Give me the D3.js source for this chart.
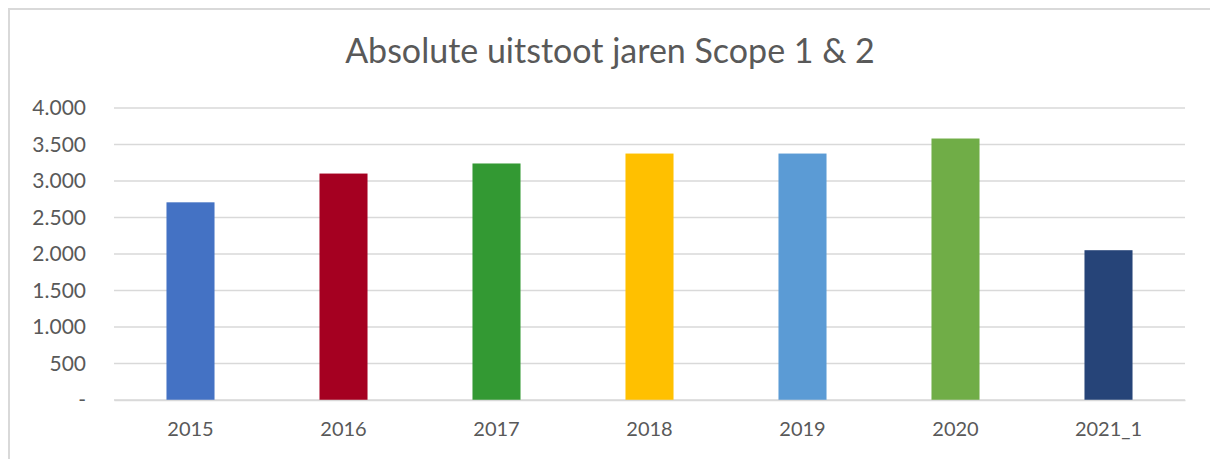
<!DOCTYPE html>
<html>
<head>
<meta charset="utf-8">
<script src="https://cdn.jsdelivr.net/npm/d3@7"></script>
<style>
  body { margin: 0; background: #fff; }
  svg text { font-family: Lato, "Open Sans", sans-serif; fill: #595959; }
</style>
</head>
<body>
<div id="chart"></div>
<script>
// data
const categories = ["2015", "2016", "2017", "2018", "2019", "2020", "2021_1"];
const values = [2708, 3102, 3240, 3376, 3376, 3582, 2052];
const barColors = ["#4472C4", "#A50021", "#339933", "#FFC000", "#5B9BD5", "#70AD47", "#264478"];
const yTicks = [0, 500, 1000, 1500, 2000, 2500, 3000, 3500, 4000];
const titleText = "Absolute uitstoot jaren Scope 1 & 2";

const W = 1210, H = 459;
const margin = {top: 108, right: 25, bottom: 59, left: 114};

const svg = d3.select("#chart").append("svg")
    .attr("width", W)
    .attr("height", H);

// chart frame (only top and left edges are visible)
svg.append("path")
    .attr("d", `M9,${H} L9,9 L${W},9`)
    .attr("fill", "none")
    .attr("stroke", "#d9d9d9")
    .attr("stroke-width", 2);

// title
svg.append("text")
    .attr("x", 610)
    .attr("y", 63)
    .attr("text-anchor", "middle")
    .style("font-size", "34px")
    .text(titleText);

const x = d3.scaleBand()
    .domain(categories)
    .range([margin.left, W - margin.right])
    .paddingInner(0.686)
    .paddingOuter(0.343);

const y = d3.scaleLinear()
    .domain([0, 4000])
    .range([H - margin.bottom, margin.top]);

const fmt = v => v === 0 ? "-" : d3.format(",")(v).replace(/,/g, ".");

// gridlines
svg.append("g")
    .selectAll("line")
    .data(yTicks)
    .join("line")
    .attr("x1", margin.left)
    .attr("x2", W - margin.right)
    .attr("y1", d => y(d))
    .attr("y2", d => y(d))
    .attr("stroke", "#d9d9d9")
    .attr("stroke-width", 1.5);

// bars
svg.append("g")
    .selectAll("rect")
    .data(categories)
    .join("rect")
    .attr("x", d => x(d))
    .attr("width", x.bandwidth())
    .attr("y", (d, i) => y(values[i]))
    .attr("height", (d, i) => y(0) - y(values[i]))
    .attr("fill", (d, i) => barColors[i]);

// y axis
const yAxis = svg.append("g")
    .attr("transform", `translate(${margin.left - 28},0)`)
    .call(d3.axisLeft(y).tickValues(yTicks).tickFormat(fmt).tickSize(0).tickPadding(0));
yAxis.select(".domain").remove();
yAxis.selectAll("text")
    .style("font-size", "21px")
    .attr("font-family", null);

// x axis
const xAxis = svg.append("g")
    .attr("transform", `translate(0,${y(0)})`)
    .call(d3.axisBottom(x).tickSize(0).tickPadding(22));
xAxis.select(".domain")
    .attr("stroke", "#d9d9d9")
    .attr("stroke-width", 1.5);
xAxis.selectAll("text")
    .style("font-size", "20px")
    .attr("font-family", null);
</script>
</body>
</html>
